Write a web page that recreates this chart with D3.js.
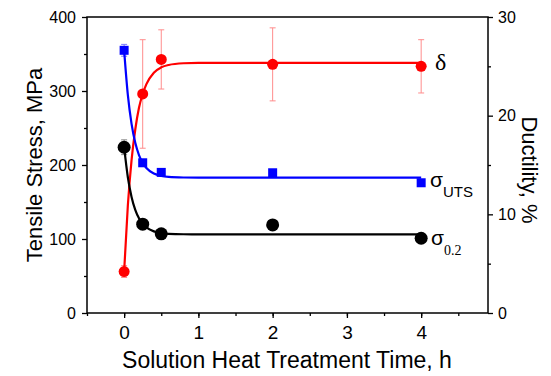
<!DOCTYPE html>
<html>
<head>
<meta charset="utf-8">
<script src="https://cdn.jsdelivr.net/npm/d3@7"></script>
<style>
  body { margin: 0; background: #fff; }
  svg { font-family: "Liberation Sans", Arial, sans-serif; }
</style>
</head>
<body>
<svg id="chart" width="551" height="376"></svg>
<script>
// measured points
const times = [0, 0.25, 0.5, 2, 4];
const utsValues = [355, 203, 190, 189.5, 176];
const utsErr = [8, 0, 0, 0, 0];
const yieldValues = [224, 120, 107, 119, 101];
const yieldErr = [10, 5, 0, 0, 0];
const ductValues = [4.2, 22.2, 25.7, 25.2, 25.0];
const ductErr = [0.6, 5.5, 3.0, 3.7, 2.7];

// fitted curves
const fitX = [0, 0.05, 0.1, 0.15, 0.2, 0.25, 0.3, 0.4, 0.5, 0.6, 0.8, 1, 2, 4];
const utsFit = [355, 294.7, 255.5, 230, 213.5, 202.9, 195.9, 188.4, 185.2, 183.9, 183.1, 182.9, 182.9, 182.9];
const yieldFit = [224, 183.4, 156.8, 139.4, 127.9, 120.4, 115.6, 110.3, 108, 107, 106.4, 106.3, 106.3, 106.3];
const ductFit = [4.2, 10.9, 15.5, 18.6, 20.8, 22.2, 23.2, 24.36, 24.9, 25.14, 25.31, 25.35, 25.36, 25.36];

const xTicks = [0, 1, 2, 3, 4];
const stressTicks = [0, 100, 200, 300, 400];
const ductTicks = [0, 10, 20, 30];

const svg = d3.select("#chart");
const plotLeft = 87, plotRight = 488, plotTop = 17, plotBottom = 313;

const x = d3.scaleLinear().domain([-0.5, 4.9]).range([plotLeft, plotRight]);
const yS = d3.scaleLinear().domain([0, 400]).range([plotBottom, plotTop]);
const yD = d3.scaleLinear().domain([0, 30]).range([plotBottom, plotTop]);

// frame
svg.append("rect")
  .attr("x", plotLeft).attr("y", plotTop)
  .attr("width", plotRight - plotLeft).attr("height", plotBottom - plotTop)
  .attr("fill", "none").attr("stroke", "#000").attr("stroke-width", 1.5);

// axes
function styleAxis(g) {
  g.select(".domain").remove();
  g.selectAll("line").attr("stroke", "#000").attr("stroke-width", 1.3);
}

svg.append("g").attr("transform", `translate(0,${plotBottom})`)
  .call(d3.axisBottom(x).tickValues(d3.range(-0.5, 4.9, 0.5)).tickSize(3).tickFormat(""))
  .call(styleAxis);
svg.append("g").attr("transform", `translate(0,${plotBottom})`)
  .call(d3.axisBottom(x).tickValues(xTicks).tickSize(5).tickPadding(8).tickFormat(d3.format("d")))
  .call(styleAxis)
  .selectAll("text").attr("font-size", 19).attr("fill", "#000");

svg.append("g").attr("transform", `translate(${plotLeft},0)`)
  .call(d3.axisLeft(yS).tickValues(d3.range(50, 400, 100)).tickSize(3).tickFormat(""))
  .call(styleAxis);
svg.append("g").attr("transform", `translate(${plotLeft},0)`)
  .call(d3.axisLeft(yS).tickValues(stressTicks).tickSize(5).tickPadding(6))
  .call(styleAxis)
  .selectAll("text").attr("font-size", 16).attr("fill", "#000");

svg.append("g").attr("transform", `translate(${plotRight},0)`)
  .call(d3.axisRight(yD).tickValues([5, 15, 25]).tickSize(3).tickFormat(""))
  .call(styleAxis);
svg.append("g").attr("transform", `translate(${plotRight},0)`)
  .call(d3.axisRight(yD).tickValues(ductTicks).tickSize(5).tickPadding(5))
  .call(styleAxis)
  .selectAll("text").attr("font-size", 16).attr("fill", "#000");

// axis titles
svg.append("text")
  .attr("transform", "translate(42,165) rotate(-90)")
  .attr("text-anchor", "middle").attr("font-size", 22)
  .text("Tensile Stress, MPa");
svg.append("text")
  .attr("transform", "translate(522,170) rotate(90)")
  .attr("text-anchor", "middle").attr("font-size", 22)
  .text("Ductility, %");
svg.append("text")
  .attr("x", 287).attr("y", 368)
  .attr("text-anchor", "middle").attr("font-size", 23)
  .text("Solution Heat Treatment Time, h");

// error bars
function errorBars(vals, errs, yScale, color) {
  const g = svg.append("g").attr("stroke", color).attr("stroke-width", 1).attr("fill", "none");
  times.forEach((t, i) => {
    if (!errs[i]) return;
    const cx = x(t), y1 = yScale(vals[i] + errs[i]), y2 = yScale(vals[i] - errs[i]);
    g.append("line").attr("x1", cx).attr("x2", cx).attr("y1", y1).attr("y2", y2);
    g.append("line").attr("x1", cx - 3).attr("x2", cx + 3).attr("y1", y1).attr("y2", y1);
    g.append("line").attr("x1", cx - 3).attr("x2", cx + 3).attr("y1", y2).attr("y2", y2);
  });
}
errorBars(ductValues, ductErr, yD, "#ff8c8c");
errorBars(utsValues, utsErr, yS, "#7c7cff");
errorBars(yieldValues, yieldErr, yS, "#888");

// fit lines
function fitLine(vals, yScale, color) {
  const line = d3.line()
    .x((d, i) => x(fitX[i]))
    .y(d => yScale(d))
    .curve(d3.curveMonotoneX);
  svg.append("path").datum(vals)
    .attr("d", line)
    .attr("fill", "none").attr("stroke", color).attr("stroke-width", 2.2);
}
fitLine(ductFit, yD, "#ff0000");
fitLine(utsFit, yS, "#0000ff");
fitLine(yieldFit, yS, "#000");

// markers
svg.append("g").selectAll("circle").data(yieldValues).join("circle")
  .attr("cx", (d, i) => x(times[i])).attr("cy", d => yS(d))
  .attr("r", 6.5).attr("fill", "#000");
svg.append("g").selectAll("rect").data(utsValues).join("rect")
  .attr("x", (d, i) => x(times[i]) - 4.5).attr("y", d => yS(d) - 4.5)
  .attr("width", 9).attr("height", 9).attr("fill", "#0000ff");
svg.append("g").selectAll("circle").data(ductValues).join("circle")
  .attr("cx", (d, i) => x(times[i])).attr("cy", d => yD(d))
  .attr("r", 5.5).attr("fill", "#ff0000");

// series labels
svg.append("text").attr("x", 435).attr("y", 70)
  .attr("font-family", "Liberation Serif, serif").attr("font-size", 24)
  .text("δ");
const uts = svg.append("text").attr("x", 430).attr("y", 187).attr("font-size", 21);
uts.append("tspan").text("σ");
uts.append("tspan").attr("dy", 10).attr("font-size", 15).text("UTS");
const ys = svg.append("text").attr("x", 431).attr("y", 245).attr("font-size", 21);
ys.append("tspan").text("σ");
ys.append("tspan").attr("dy", 10).attr("font-size", 14)
  .attr("font-family", "Liberation Serif, serif").text("0.2");
</script>
</body>
</html>
